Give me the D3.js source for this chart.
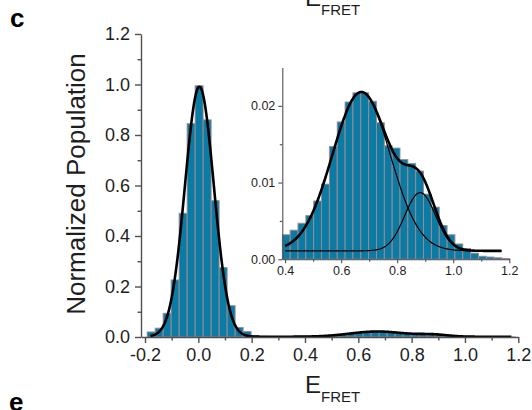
<!DOCTYPE html>
<html>
<head>
<meta charset="utf-8">
<script src="https://cdn.jsdelivr.net/npm/d3@7"></script>
<style>
  body { margin: 0; background: #fff; }
  svg text { font-family: "Liberation Sans", Arial, sans-serif; }
</style>
</head>
<body>
<svg id="main-svg"></svg>
<script>
// main histogram (E_FRET bins of 0.03)
var mainBinStart = -0.192,
  mainBinWidth = 0.03;
var mainHeights = [0.02, 0.035, 0.094, 0.226, 0.49, 0.845, 0.995, 0.86, 0.54, 0.275, 0.124, 0.038, 0.022, 0.006,
  0.003, 0.002, 0.002, 0.002, 0.003, 0.003,
  0.0036, 0.0045, 0.0055, 0.0074, 0.0098, 0.0147, 0.018, 0.0207, 0.0217, 0.0215, 0.0198, 0.0165, 0.0147,
  0.0135, 0.0127, 0.0117, 0.009, 0.007, 0.0044, 0.0032, 0.002, 0.0013, 0.0007, 0.0004, 0.0003, 0.0002];

// inset histogram (zoom on the high FRET population)
var insetBinStart = 0.39,
  insetBinWidth = 0.028;
var insetHeights = [0.0032, 0.0038, 0.0047, 0.0057, 0.0076, 0.0098, 0.0147, 0.0179, 0.0205, 0.0217, 0.0217,
  0.0206, 0.0178, 0.0148, 0.0145, 0.013, 0.0125, 0.0115, 0.0085, 0.0068, 0.0044, 0.0032, 0.002, 0.0014,
  0.0008, 0.0004, 0.0003, 0.0002, 0.0001];

// gaussian fit: low FRET peak, two high FRET peaks, offset
var fitCenters = [0.004, 0.672, 0.882],
  fitSigmas = [0.054, 0.103, 0.055],
  fitAmps = [0.99, 0.0207, 0.0076],
  fitOffset = 0.0011;

var mainXTicks = [-0.2, 0, 0.2, 0.4, 0.6, 0.8, 1.0, 1.2],
  mainXMinor = [-0.1, 0.1, 0.3, 0.5, 0.7, 0.9, 1.1],
  mainYTicks = [0, 0.2, 0.4, 0.6, 0.8, 1.0, 1.2],
  mainYMinor = [0.1, 0.3, 0.5, 0.7, 0.9, 1.1],
  insetXTicks = [0.4, 0.6, 0.8, 1.0, 1.2],
  insetXMinor = [0.5, 0.7, 0.9, 1.1],
  insetYTicks = [0, 0.01, 0.02],
  insetYMinor = [0.005, 0.015];

var width = 532,
  height = 410;
var barFill = "#0c7ba3",
  barEdge = "#a08a93",
  axisColor = "#505050";

var svg = d3.select("#main-svg").attr("width", width).attr("height", height);

function gauss(x, i) {
  return fitAmps[i] * Math.exp(-0.5 * Math.pow((x - fitCenters[i]) / fitSigmas[i], 2))
}

function fitTotal(x, list) {
  var s = fitOffset;
  list.forEach(function (i) { s += gauss(x, i) });
  return s
}

function curvePoints(x0, x1, list) {
  return d3.range(x0, x1 + 1e-9, 0.002).map(function (x) { return [x, fitTotal(x, list)] })
}

function drawAxes(g, x, y, o) {
  g.append("g").attr("transform", "translate(0," + y.range()[0] + ")")
    .call(d3.axisBottom(x).tickValues(o.xTicks).tickSizeInner(o.major).tickSizeOuter(0).tickPadding(o.pad).tickFormat(function (d) { return d.toFixed(1) }));
  g.append("g").attr("transform", "translate(0," + y.range()[0] + ")")
    .call(d3.axisBottom(x).tickValues(o.xMinor).tickSizeInner(o.minor).tickSizeOuter(0).tickFormat(""))
    .select(".domain").remove();
  g.append("g").attr("transform", "translate(" + x.range()[0] + ",0)")
    .call(d3.axisLeft(y).tickValues(o.yTicks).tickSizeInner(o.major).tickSizeOuter(0).tickPadding(o.pad).tickFormat(o.yFormat));
  g.append("g").attr("transform", "translate(" + x.range()[0] + ",0)")
    .call(d3.axisLeft(y).tickValues(o.yMinor).tickSizeInner(o.minor).tickSizeOuter(0).tickFormat(""))
    .select(".domain").remove();
  g.selectAll(".domain, .tick line").attr("stroke", axisColor).attr("stroke-width", o.sw);
  g.selectAll(".tick text").attr("fill", "#1e1e1e").style("font-size", o.font + "px").style("font-family", '"Liberation Sans", Arial, sans-serif');
}

// ---- main panel
var x = d3.scaleLinear().domain([-0.215, 1.2]).range([141, 518.3]),
  y = d3.scaleLinear().domain([0, 1.2]).range([337, 34]);

var main = svg.append("g");
main.selectAll("rect.bar").data(mainHeights).enter().append("rect")
  .attr("class", "bar")
  .attr("x", function (d, i) { return x(mainBinStart + i * mainBinWidth) })
  .attr("width", function (d, i) { return x(mainBinStart + (i + 1) * mainBinWidth) - x(mainBinStart + i * mainBinWidth) })
  .attr("y", function (d) { return y(d) })
  .attr("height", function (d) { return y(0) - y(d) })
  .attr("fill", barFill).attr("stroke", barEdge).attr("stroke-width", 0.9);

main.append("path").datum(curvePoints(-0.18, 1.175, [0, 1, 2]))
  .attr("d", d3.line().x(function (d) { return x(d[0]) }).y(function (d) { return y(d[1]) }))
  .attr("fill", "none").attr("stroke", "#000").attr("stroke-width", 2.6);

drawAxes(main, x, y, {
  xTicks: mainXTicks, xMinor: mainXMinor, yTicks: mainYTicks, yMinor: mainYMinor,
  major: 6, minor: 3.5, pad: 5, sw: 1.4, font: 18,
  yFormat: function (d) { return d.toFixed(1) }
});

// ---- inset
var xi = d3.scaleLinear().domain([0.39, 1.2]).range([282.3, 509.3]),
  yi = d3.scaleLinear().domain([0, 0.025]).range([259.3, 67.5]);

var inset = svg.append("g");
inset.selectAll("rect.bar").data(insetHeights).enter().append("rect")
  .attr("class", "bar")
  .attr("x", function (d, i) { return xi(insetBinStart + i * insetBinWidth) })
  .attr("width", function (d, i) { return xi(insetBinStart + (i + 1) * insetBinWidth) - xi(insetBinStart + i * insetBinWidth) })
  .attr("y", function (d) { return yi(d) })
  .attr("height", function (d) { return yi(0) - yi(d) })
  .attr("fill", barFill).attr("stroke", barEdge).attr("stroke-width", 0.9);

var li = d3.line().x(function (d) { return xi(d[0]) }).y(function (d) { return yi(d[1]) });
[[1], [2]].forEach(function (list) {
  inset.append("path").datum(curvePoints(0.4, 1.173, list)).attr("d", li)
    .attr("fill", "none").attr("stroke", "#000").attr("stroke-width", 1.2);
});
inset.append("path").datum(curvePoints(0.4, 1.173, [1, 2])).attr("d", li)
  .attr("fill", "none").attr("stroke", "#000").attr("stroke-width", 2.6);

drawAxes(inset, xi, yi, {
  xTicks: insetXTicks, xMinor: insetXMinor, yTicks: insetYTicks, yMinor: insetYMinor,
  major: 4, minor: 2.5, pad: 3, sw: 1.1, font: 12.5,
  yFormat: function (d) { return d.toFixed(2) }
});

// ---- labels
svg.append("text").attr("transform", "translate(85,184) rotate(-90)")
  .attr("text-anchor", "middle").attr("fill", "#1e1e1e").style("font-size", "26px")
  .text("Normalized Population");

function eFret(yy) {
  var t = svg.append("text").attr("x", 305).attr("y", yy).attr("fill", "#1e1e1e").style("font-size", "24px").text("E");
  t.append("tspan").attr("dy", 9).style("font-size", "15px").text("FRET");
}
eFret(393);
eFret(6);

svg.append("text").attr("x", 10).attr("y", 27).style("font-size", "26px").style("font-weight", "bold").text("c");
svg.append("text").attr("x", 9).attr("y", 411).style("font-size", "26px").style("font-weight", "bold").text("e");
</script>
</body>
</html>
